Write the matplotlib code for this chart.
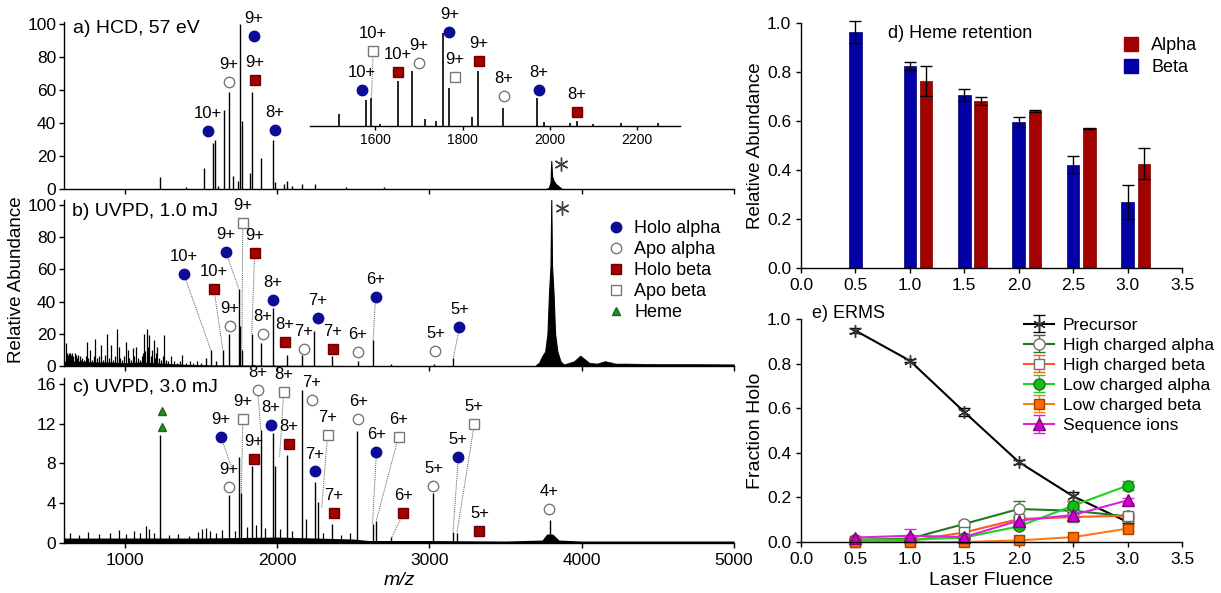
import matplotlib

matplotlib.use("Agg")

import matplotlib.pyplot as plt
import numpy as np
from matplotlib.lines import Line2D
from matplotlib.patches import Patch

plt.rcParams["font.family"] = ["Liberation Sans", "DejaVu Sans"]
plt.rcParams["axes.linewidth"] = 1.0
plt.rcParams["xtick.major.size"] = 3.5
plt.rcParams["ytick.major.size"] = 3.5
plt.rcParams["xtick.direction"] = "out"
plt.rcParams["ytick.direction"] = "out"

FIG_W, FIG_H = 1221, 593

# ---------------- a) HCD 57 eV spectrum (m/z, % abundance) ----------------
hcd_mz = [1230, 1400, 1517, 1579, 1591, 1610, 1653, 1685, 1713, 1740, 1754, 1768,
          1821, 1835, 1892, 1970, 1986, 2046, 2062, 2100, 2163, 2248, 2450, 2700]
hcd_int = [7, 1, 13, 28, 30, 2, 48, 59, 8, 5, 100, 41,
           10, 59, 19, 30, 4, 3, 5, 2, 3, 3, 1, 1]
hcd_prec_mz = [3770, 3785, 3795, 3800, 3805, 3815, 3830, 3850, 3870]
hcd_prec_int = [0, 1, 4, 17, 8, 5, 3, 1.5, 0]

# (species, label, marker m/z, marker y, leader m/z, leader y)
hcd_ions = [
    ("holo_alpha", "10+", 1544, 35, None, None),
    ("apo_alpha", "9+", 1682, 65, None, None),
    ("holo_alpha", "9+", 1846, 93, None, None),
    ("holo_beta", "9+", 1852, 66, None, None),
    ("holo_alpha", "8+", 1984, 36, None, None),
]
hcd_inset_ions = [
    ("holo_alpha", "10+", 1570, 39, None, None),
    ("apo_beta", "10+", 1595, 81, 1591, 30),
    ("holo_beta", "10+", 1651, 58, None, None),
    ("apo_alpha", "9+", 1699, 68, None, None),
    ("holo_alpha", "9+", 1770, 101, None, None),
    ("apo_beta", "9+", 1782, 53, None, None),
    ("holo_beta", "9+", 1837, 70, None, None),
    ("apo_alpha", "8+", 1894, 32, None, None),
    ("holo_alpha", "8+", 1975, 39, None, None),
    ("holo_beta", "8+", 2062, 15, None, None),
]

# ---------------- b) UVPD 1.0 mJ spectrum ----------------
uv1_mz = [1530, 1564, 1600, 1643, 1684, 1748, 1755, 1768, 1833, 1892, 1970, 2062,
          2165, 2244, 2357, 2528, 2630, 2750, 3030, 3157]
uv1_int = [5, 10, 3, 10, 20, 48, 25, 10, 20, 14, 36, 7,
           7, 22, 6, 3, 16, 1, 1.5, 5]
uv1_noise_mz = [610, 618, 625, 632, 640, 648, 655, 662, 670, 678, 686, 694, 702, 710,
                720, 732, 745, 751, 760, 772, 785, 795, 805, 815, 828, 843, 855, 868,
                882, 895, 908, 920, 935, 948, 958, 969, 980, 992, 1006, 1018, 1030,
                1042, 1050, 1062, 1072, 1085, 1098, 1110, 1120, 1127, 1135, 1144, 1152,
                1160, 1170, 1180, 1188, 1198, 1206, 1214, 1225, 1238, 1250, 1258, 1270,
                1285, 1301, 1320, 1340, 1360, 1378, 1400, 1425, 1450, 1475, 1500]
uv1_noise_int = [14, 8, 7, 8, 8, 7, 8, 6, 8, 7, 5, 7, 6, 4,
                 5, 4, 6, 15, 5, 10, 4, 6, 17, 5, 6, 13, 4, 7,
                 20, 5, 13, 4, 6, 23, 12, 5, 4, 6, 15, 10, 5,
                 4, 11, 6, 12, 5, 4, 6, 8, 20, 9, 23, 12,
                 19, 6, 10, 16, 5, 8, 12, 5, 4, 6, 19, 4,
                 3, 6, 3, 2, 3, 7, 2, 3, 2, 3, 2]
uv1_floor_mz = [600, 700, 800, 900, 1000, 1100, 1200, 1300, 1400, 1500, 1600, 2000, 2500, 3000, 3600]
uv1_floor_int = [3, 3, 2.5, 2.5, 2, 2.5, 2, 1.5, 1, 0.8, 0.7, 0.5, 0.3, 0.3, 0.3]
uv1_prec_mz = [3700, 3720, 3740, 3760, 3775, 3785, 3795, 3800, 3805, 3815, 3825, 3840, 3860, 3880]
uv1_prec_int = [0.5, 2, 6, 9, 20, 45, 62, 103, 62, 45, 20, 9, 3, 1]
uv1_tail_mz = [3880, 3900, 3950, 3990, 4010, 4050, 4100, 4150, 4180, 4220, 4300, 4500, 4700, 5000]
uv1_tail_int = [1, 1.5, 3, 6.5, 5, 2, 1.5, 3, 2.5, 1.5, 1.5, 1.2, 1.2, 1]

uv1_ions = [
    ("holo_alpha", "10+", 1387, 57, 1564, 10),
    ("holo_beta", "10+", 1584, 48, 1643, 10),
    ("holo_alpha", "9+", 1662, 71, 1748, 48),
    ("apo_beta", "9+", 1774, 89, 1768, 10),
    ("holo_beta", "9+", 1852, 70, 1833, 20),
    ("apo_alpha", "9+", 1688, 25, None, None),
    ("holo_alpha", "8+", 1970, 41, None, None),
    ("apo_alpha", "8+", 1905, 20, None, None),
    ("holo_beta", "8+", 2049, 15, None, None),
    ("apo_alpha", "7+", 2174, 10.6, None, None),
    ("holo_alpha", "7+", 2266, 30, None, None),
    ("holo_beta", "7+", 2364, 10.6, None, None),
    ("apo_alpha", "6+", 2528, 8.7, None, None),
    ("holo_alpha", "6+", 2646, 43, 2630, 16),
    ("apo_alpha", "5+", 3039, 9.3, None, None),
    ("holo_alpha", "5+", 3197, 24, 3157, 5),
]

# ---------------- c) UVPD 3.0 mJ spectrum ----------------
uv3_mz = [1230, 1684, 1748, 1760, 1833, 1892, 1970, 1985, 2062, 2165, 2250, 2265,
          2357, 2524, 2630, 2650, 2750, 3025, 3155, 3180, 3790]
uv3_int = [10.9, 4.8, 8.7, 5.0, 7.7, 11.4, 11.1, 7.7, 8.9, 15.4, 6.1, 4.1,
           1.9, 11.3, 1.9, 2.2, 0.6, 5.0, 1.1, 1.0, 2.3]
uv3_noise_mz = [640, 700, 760, 830, 900, 961, 1010, 1060, 1100, 1138, 1160, 1190,
                1290, 1350, 1420, 1480, 1505, 1530, 1560, 1600, 1640, 1720, 1800,
                1860, 1920, 2020, 2100, 2190, 2300, 2420, 2480]
uv3_noise_int = [1.0, 0.8, 1.1, 0.9, 1.0, 1.3, 0.9, 1.2, 1.0, 1.7, 1.4, 1.0,
                 0.8, 0.9, 0.7, 1.1, 1.4, 1.5, 1.2, 1.0, 1.3, 1.2, 1.6,
                 1.8, 1.5, 1.4, 1.2, 2.4, 1.0, 0.8, 1.0]
uv3_floor_mz = [600, 1000, 1500, 2000, 2500, 2600, 3000, 3500, 3740, 3770, 3810, 3850, 4000, 5000]
uv3_floor_int = [0.5, 0.5, 0.5, 0.6, 0.4, 0.25, 0.25, 0.2, 0.3, 0.9, 0.9, 0.3, 0.2, 0.2]

uv3_heme_mz = [1243, 1243]
uv3_heme_y = [13.3, 11.7]
uv3_ions = [
    ("holo_alpha", "9+", 1630, 10.7, 1708, 7.3),
    ("apo_alpha", "9+", 1682, 5.6, None, None),
    ("apo_beta", "9+", 1774, 12.5, 1765, 5.0),
    ("holo_beta", "9+", 1846, 8.5, None, None),
    ("apo_alpha", "8+", 1872, 15.4, 1892, 11.4),
    ("holo_alpha", "8+", 1957, 11.9, None, None),
    ("apo_beta", "8+", 2043, 15.2, 2016, 8.7),
    ("holo_beta", "8+", 2075, 10.0, None, None),
    ("apo_alpha", "7+", 2226, 14.4, None, None),
    ("holo_alpha", "7+", 2246, 7.2, None, None),
    ("apo_beta", "7+", 2331, 10.9, 2292, 3.5),
    ("holo_beta", "7+", 2370, 3.0, None, None),
    ("apo_alpha", "6+", 2534, 12.5, None, None),
    ("holo_alpha", "6+", 2652, 9.2, 2626, 1.9),
    ("apo_beta", "6+", 2797, 10.7, 2650, 2.2),
    ("holo_beta", "6+", 2829, 3.0, 2750, 0.5),
    ("apo_alpha", "5+", 3026, 5.7, None, None),
    ("holo_alpha", "5+", 3190, 8.7, 3155, 1.1),
    ("apo_beta", "5+", 3295, 12.0, 3180, 1.0),
    ("holo_beta", "5+", 3328, 1.2, None, None),
    ("apo_alpha", "4+", 3787, 3.4, None, None),
]

# ---------------- d) heme retention ----------------
fluence = [0.5, 1.0, 1.5, 2.0, 2.5, 3.0]
heme_beta = [0.965, 0.824, 0.706, 0.597, 0.422, 0.269]
heme_beta_err = [0.045, 0.015, 0.024, 0.020, 0.034, 0.069]
heme_alpha_fluence = [1.0, 1.5, 2.0, 2.5, 3.0]
heme_alpha = [0.763, 0.683, 0.641, 0.570, 0.426]
heme_alpha_err = [0.062, 0.017, 0.003, 0.003, 0.062]

# ---------------- e) ERMS ----------------
precursor = [0.948, 0.813, 0.583, 0.359, 0.205, 0.090]
precursor_err = [0.010, 0.008, 0.020, 0.008, 0.020, 0.005]
high_alpha = [0.010, 0.015, 0.081, 0.148, 0.140, 0.115]
high_alpha_err = [0.0, 0.0, 0.015, 0.035, 0.010, 0.010]
high_beta = [0.000, 0.005, 0.043, 0.103, 0.112, 0.118]
high_beta_err = [0.0, 0.0, 0.010, 0.010, 0.020, 0.010]
low_alpha = [0.010, 0.010, 0.020, 0.070, 0.163, 0.253]
low_alpha_err = [0.0, 0.0, 0.0, 0.010, 0.020, 0.020]
low_beta = [0.000, 0.000, 0.000, 0.007, 0.022, 0.060]
low_beta_err = [0.0, 0.0, 0.0, 0.0, 0.0, 0.010]
seq_ions = [0.020, 0.028, 0.022, 0.096, 0.121, 0.187]
seq_ions_err = [0.005, 0.030, 0.005, 0.010, 0.010, 0.010]

STYLE = {
    "holo_alpha": dict(marker="o", ms=7.5, mfc="#0c0c94", mec="#0c0c94"),
    "apo_alpha": dict(marker="o", ms=7.5, mfc="white", mec="#777777", mew=1.0),
    "holo_beta": dict(marker="s", ms=7, mfc="#a30000", mec="#6e0000"),
    "apo_beta": dict(marker="s", ms=7, mfc="white", mec="#777777", mew=1.0),
    "heme": dict(marker="^", ms=6, mfc="#2a8a2a", mec="#1a6a1a"),
}
LEGEND_B = [("holo_alpha", "Holo alpha"), ("apo_alpha", "Apo alpha"),
            ("holo_beta", "Holo beta"), ("apo_beta", "Apo beta"), ("heme", "Heme")]
ASTERISK = (6, 2, 0)


def px_axes(fig, left, top, right, bottom):
    return fig.add_axes([left / FIG_W, 1 - bottom / FIG_H,
                         (right - left) / FIG_W, (bottom - top) / FIG_H])


def style_axes(ax):
    ax.spines["top"].set_visible(False)
    ax.spines["right"].set_visible(False)
    ax.tick_params(labelsize=12.5, width=1.0)


def draw_ions(ax, ions, fs=12):
    for species, label, mz, y, tmz, ty in ions:
        if tmz is not None:
            ax.plot([mz, tmz], [y, ty], ls=(0, (1, 1)), color="0.35", lw=0.7,
                    zorder=3, clip_on=False)
        ax.plot(mz, y, ls="none", zorder=5, clip_on=False, **STYLE[species])
        ax.annotate(label, (mz, y), xytext=(0, 12.5), textcoords="offset points",
                    ha="center", va="center", fontsize=fs, zorder=6,
                    annotation_clip=False)


def spectrum_axes(fig, top, bottom, ymax, yticks):
    ax = px_axes(fig, 64, top, 734, bottom)
    style_axes(ax)
    ax.tick_params(axis="y", pad=2)
    ax.set_xlim(600, 5000)
    ax.set_ylim(0, ymax)
    ax.set_yticks(yticks)
    ax.set_xticks([1000, 2000, 3000, 4000, 5000])
    ax.patch.set_alpha(0)
    return ax


fig = plt.figure(figsize=(FIG_W / 100, FIG_H / 100), dpi=100)

# ---- a ----
ax_a = spectrum_axes(fig, 22.4, 189, 101, [0, 20, 40, 60, 80, 100])
ax_a.tick_params(labelbottom=False)
ax_a.vlines(hcd_mz, 0, hcd_int, color="black", lw=1.0)
ax_a.fill_between(hcd_prec_mz, 0, hcd_prec_int, color="black", lw=0.8)
ax_a.plot(3865, 15, marker=ASTERISK, ms=10, color="0.25", mew=1.0)
draw_ions(ax_a, hcd_ions)
ax_a.text(0.014, 0.966, "a) HCD, 57 eV", transform=ax_a.transAxes, fontsize=14,
          va="center", ha="left")

ax_in = px_axes(fig, 310, 0, 680.5, 126)
ax_in.patch.set_alpha(0)
for s in ("top", "right", "left"):
    ax_in.spines[s].set_visible(False)
ax_in.set_xlim(1450, 2300)
ax_in.set_ylim(0, 135.5)
ax_in.set_yticks([])
ax_in.set_xticks([1600, 1800, 2000, 2200])
ax_in.tick_params(labelsize=10, width=1.0, length=3, pad=2)
ax_in.vlines(hcd_mz, 0, hcd_int, color="black", lw=1.2)
draw_ions(ax_in, hcd_inset_ions)

# ---- b ----
ax_b = spectrum_axes(fig, 200, 366, 103, [0, 20, 40, 60, 80, 100])
ax_b.tick_params(labelbottom=False)
ax_b.fill_between(uv1_floor_mz, 0, uv1_floor_int, color="black", lw=0)
ax_b.vlines(uv1_noise_mz, 0, uv1_noise_int, color="black", lw=0.9)
ax_b.vlines(uv1_mz, 0, uv1_int, color="black", lw=1.0)
ax_b.fill_between(uv1_prec_mz, 0, uv1_prec_int, color="black", lw=0.8)
ax_b.fill_between(uv1_tail_mz, 0, uv1_tail_int, color="black", lw=0.5)
ax_b.plot(3872, 98, marker=ASTERISK, ms=10, color="0.25", mew=1.0)
draw_ions(ax_b, uv1_ions)
ax_b.text(0.012, 0.93, "b) UVPD, 1.0 mJ", transform=ax_b.transAxes, fontsize=14,
          va="center", ha="left")
handles = [Line2D([], [], ls="none", **STYLE[k]) for k, _ in LEGEND_B]
ax_b.legend(handles, [t for _, t in LEGEND_B], loc="upper left",
            bbox_to_anchor=(598 / FIG_W, 1 - 211 / FIG_H), bbox_transform=fig.transFigure,
            frameon=False, fontsize=13, borderpad=0, handlelength=1.0,
            handletextpad=0.5, labelspacing=0.22)

# ---- c ----
ax_c = spectrum_axes(fig, 378, 543, 16.6, [0, 4, 8, 12, 16])
ax_c.fill_between(uv3_floor_mz, 0, uv3_floor_int, color="black", lw=0)
ax_c.vlines(uv3_noise_mz, 0, uv3_noise_int, color="black", lw=0.9)
ax_c.vlines(uv3_mz, 0, uv3_int, color="black", lw=1.0)
ax_c.plot(uv3_heme_mz, uv3_heme_y, ls="none", zorder=5, **STYLE["heme"])
draw_ions(ax_c, uv3_ions)
ax_c.text(0.014, 0.945, "c) UVPD, 3.0 mJ", transform=ax_c.transAxes, fontsize=14,
          va="center", ha="left")
ax_c.set_xlabel("m/z", fontsize=14, style="italic", labelpad=3)

fig.text(17 / FIG_W, 1 - 280 / FIG_H, "Relative Abundance", rotation=90,
         fontsize=13.5, ha="center", va="center")

# ---- d ----
ax_d = px_axes(fig, 801, 23, 1182, 268)
style_axes(ax_d)
err_kw = dict(ecolor="black", elinewidth=1.0, capthick=1.0)
ax_d.bar(fluence, heme_beta, width=0.115, color="#0000a6", edgecolor="#00006e",
         lw=0.5, yerr=heme_beta_err, capsize=4, error_kw=err_kw, label="Beta")
ax_d.bar(np.array(heme_alpha_fluence) + 0.15, heme_alpha, width=0.115, color="#a30000",
         edgecolor="#6e0000", lw=0.5, yerr=heme_alpha_err, capsize=4, error_kw=err_kw,
         label="Alpha")
for child in ax_d.get_children():
    child.set_clip_on(False)
ax_d.set_xlim(0, 3.5)
ax_d.set_ylim(0, 1.0)
ax_d.set_xticks(np.arange(0, 3.51, 0.5))
ax_d.set_yticks(np.arange(0, 1.01, 0.2))
ax_d.xaxis.set_major_formatter(plt.FormatStrFormatter("%.1f"))
ax_d.yaxis.set_major_formatter(plt.FormatStrFormatter("%.1f"))
ax_d.set_ylabel("Relative Abundance", fontsize=13.5, labelpad=2)
ax_d.text(888 / FIG_W, 1 - 33 / FIG_H, "d) Heme retention", transform=fig.transFigure,
          fontsize=13, va="center", ha="left")
ax_d.legend([Patch(color="#a30000"), Patch(color="#0000a6")], ["Alpha", "Beta"],
            loc="upper left", bbox_to_anchor=(1115 / FIG_W, 1 - 28 / FIG_H),
            bbox_transform=fig.transFigure, frameon=False, fontsize=13, borderpad=0,
            handlelength=0.8, handleheight=0.8, handletextpad=0.7, labelspacing=0.25)

# ---- e ----
ax_e = px_axes(fig, 801, 319, 1182, 542)
style_axes(ax_e)
series_e = [
    ("Precursor", precursor, precursor_err,
     dict(color="black", marker=ASTERISK, ms=9, mec="0.2", mfc="0.2", mew=1.0)),
    ("High charged alpha", high_alpha, high_alpha_err,
     dict(color="#1f7a1f", marker="o", ms=8, mfc="white", mec="#707070", mew=1.0)),
    ("High charged beta", high_beta, high_beta_err,
     dict(color="#ff5a1e", marker="s", ms=7.5, mfc="white", mec="#707070", mew=1.0)),
    ("Low charged alpha", low_alpha, low_alpha_err,
     dict(color="#22d022", marker="o", ms=8, mfc="#10c010", mec="#207020", mew=1.0)),
    ("Low charged beta", low_beta, low_beta_err,
     dict(color="#ff7a1a", marker="s", ms=7.5, mfc="#ff6a00", mec="#a04000", mew=1.0)),
    ("Sequence ions", seq_ions, seq_ions_err,
     dict(color="#e020e0", marker="^", ms=8, mfc="#cc00cc", mec="#800080", mew=1.0)),
]
for name, vals, errs, kw in series_e:
    ax_e.errorbar(fluence, vals, yerr=errs, lw=1.5, capsize=4, elinewidth=1.0,
                  capthick=1.0, ecolor=kw["color"], label=name, clip_on=False, **kw)
ax_e.set_xlim(0, 3.5)
ax_e.set_ylim(0, 1.0)
ax_e.set_xticks(np.arange(0, 3.51, 0.5))
ax_e.set_yticks(np.arange(0, 1.01, 0.2))
ax_e.xaxis.set_major_formatter(plt.FormatStrFormatter("%.1f"))
ax_e.yaxis.set_major_formatter(plt.FormatStrFormatter("%.1f"))
ax_e.set_ylabel("Fraction Holo", fontsize=14, labelpad=2)
ax_e.set_xlabel("Laser Fluence", fontsize=14, labelpad=4)
ax_e.text(812 / FIG_W, 1 - 313 / FIG_H, "e) ERMS", transform=fig.transFigure,
          fontsize=13, va="center", ha="left")
ax_e.legend(loc="upper left", bbox_to_anchor=(1015 / FIG_W, 1 - 309 / FIG_H),
            bbox_transform=fig.transFigure, frameon=False, fontsize=12.5, borderpad=0,
            handlelength=1.75, handletextpad=0.5, labelspacing=0.28)

fig.savefig("out.png", dpi=100)
